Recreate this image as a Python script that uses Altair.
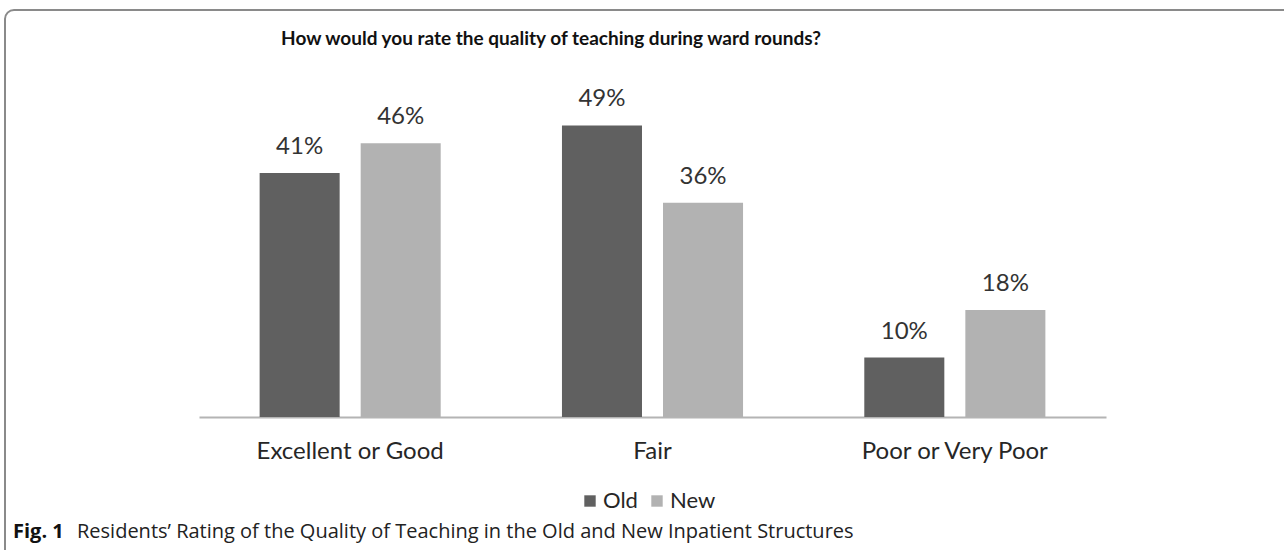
import altair as alt
import pandas as pd

# Survey answers, percent of residents per rating and inpatient structure
categories = ["Excellent or Good", "Fair", "Poor or Very Poor"]
series = ["Old", "New"]
old_pct = [41, 49, 10]
new_pct = [46, 36, 18]
colors = ["#606060", "#b2b2b2"]

title_text = "How would you rate the quality of teaching during ward rounds?"
caption_lead = "Fig. 1"
caption_text = "Residents\u2019 Rating of the Quality of Teaching in the Old and New Inpatient Structures"

rows = []
for cat, o, n in zip(categories, old_pct, new_pct):
    rows.append({"category": cat, "series": "Old", "value": o, "label": f"{o}%"})
    rows.append({"category": cat, "series": "New", "value": n, "label": f"{n}%"})
df = pd.DataFrame(rows)

W, H = 907, 357
PAD = {"left": 199, "top": 60, "right": 178, "bottom": 133}
FONT = "Lato"
CAP_FONT = "Open Sans"

x = alt.X(
    "category:N",
    sort=categories,
    scale=alt.Scale(paddingInner=0, paddingOuter=0),
    axis=alt.Axis(
        title=None, labelAngle=0, ticks=False, grid=False,
        domainColor="#b4b4b4", domainWidth=2,
        labelFont=FONT, labelFontSize=24, labelColor="#262626", labelPadding=22,
        labelLimit=0,
    ),
)
x_off = alt.XOffset("series:N", sort=series, scale=alt.Scale(paddingInner=0.208, paddingOuter=0.6))
y = alt.Y("value:Q", scale=alt.Scale(domain=[0, 60]), axis=None)
color = alt.Color(
    "series:N",
    sort=series,
    scale=alt.Scale(domain=series, range=colors),
    legend=alt.Legend(
        title=None, orient="none", legendX=380, legendY=430, direction="horizontal",
        symbolType="square", symbolSize=130, symbolStrokeWidth=0,
        labelFont=FONT, labelFontSize=22, labelColor="#262626",
        labelOffset=2, columnPadding=8,
    ),
)

base = alt.Chart(df)
bars = base.mark_bar().encode(x=x, xOffset=x_off, y=y, color=color)
labels = base.mark_text(
    baseline="bottom", dy=-14, font=FONT, fontSize=24, color="#333333"
).encode(x=x, xOffset=x_off, y=y, text="label:N")

title = alt.Chart(pd.DataFrame({"t": [title_text]})).mark_text(
    font=FONT, fontSize=19, fontWeight="bold", color="#111111", align="center", baseline="alphabetic"
).encode(x=alt.value(352), y=alt.value(-15), text="t:N")

cap_lead = alt.Chart(pd.DataFrame({"t": [caption_lead]})).mark_text(
    font=CAP_FONT, fontSize=20, fontWeight="bold", color="#111111", align="left", baseline="alphabetic"
).encode(x=alt.value(-186), y=alt.value(478), text="t:N")

cap_body = alt.Chart(pd.DataFrame({"t": [caption_text]})).mark_text(
    font=CAP_FONT, fontSize=20, color="#222222", align="left", baseline="alphabetic"
).encode(x=alt.value(-122), y=alt.value(478), text="t:N")

# rounded figure frame: only its top and left edges fall inside the canvas
frame = alt.Chart(pd.DataFrame({"f": [0]})).mark_rect(
    fill=None, stroke="#8a8a8a", strokeWidth=2, cornerRadius=9
).encode(x=alt.value(-194), x2=alt.value(1300), y=alt.value(-50), y2=alt.value(600))

chart = alt.layer(frame, bars, labels, title, cap_lead, cap_body).properties(
    width=W, height=H, padding=PAD,
    autosize=alt.AutoSizeParams(type="none"),
    background="white",
).configure_view(stroke=None)

chart.save("out.html", embed_options={"renderer": "svg", "actions": False})
